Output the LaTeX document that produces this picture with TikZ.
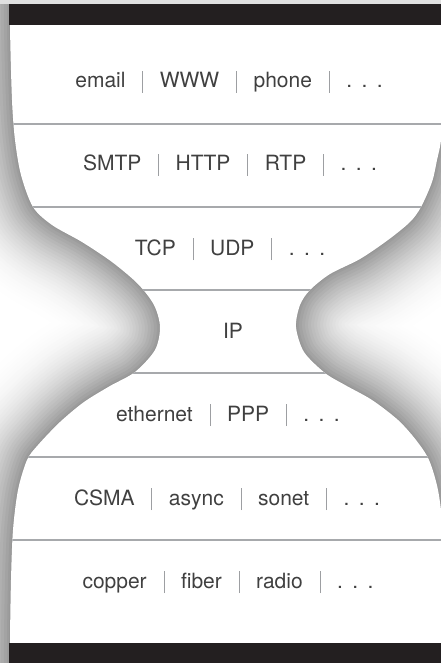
\documentclass[tikz,border=0pt]{standalone}
\usepackage{fontspec}
\setmainfont{TeX Gyre Heros}

\definecolor{barblack}{HTML}{231F20}
\definecolor{linegray}{HTML}{A7A9AC}
\definecolor{sepgray}{HTML}{9D9FA2}

\newcommand{\sepline}{\hspace{0.8em}\textcolor{sepgray}{\rule[-5pt]{0.7pt}{22pt}}\hspace{0.8em}}
\newcommand{\etcdots}{.\hspace{0.45em}.\hspace{0.45em}.}

\newcommand{\glasspath}{plot[smooth] coordinates {(10,-60) (10,25) (12,100) (15,140) (21,175) (33,207) (52,225) (82,242) (112,262) (138,284) (154,305) (160,327) (155,350) (135,372) (110,386) (84,402) (60,422) (38,445) (27,460) (18,490) (13,530) (11,580) (10,643) (10,720)}
 -- plot[smooth] coordinates {(446,720) (446,643) (445,580) (443,530) (438,490) (429,460) (416,440) (398,420) (372,400) (345,385) (325,373) (304,352) (296,327) (300,305) (310,290) (330,274) (360,259) (388,240) (410,222) (421,207) (432,182) (437,160) (441,140) (444,100) (446,25) (446,-60)}
 -- cycle}

\tikzset{
  layer/.style={font=\fontsize{21}{25}\selectfont, anchor=base, inner sep=0pt, text=black!75},
  layerline/.style={linegray, line width=2.6pt}
}

\begin{document}
\begin{tikzpicture}[x=1pt, y=-1pt]
\useasboundingbox (0,0) rectangle (441,663);
\clip (0,0) rectangle (441,663);

\fill[white] (0,0) rectangle (441,663);

\foreach \d in {90,87,...,3,1}{
  \pgfmathsetmacro{\g}{42*(1-\d/92)^2.2}
  \draw[line width=2*\d, black!\g, line join=round] \glasspath;
}

\fill[white] \glasspath;

\begin{scope}
\clip \glasspath;
\foreach \y in {124,207,290,373,457,540}
  \draw[layerline] (0,\y) -- (441,\y);
\end{scope}

\fill[black!12] (0,0) rectangle (441,4);
\fill[barblack] (9,4) rectangle (441,25);
\fill[barblack] (9,643) rectangle (441,663);

\node[layer] (email) at (229,88) {email\sepline WWW\sepline phone\sepline\etcdots};
\node[layer] (smtp) at (230,171) {SMTP\sepline HTTP\sepline RTP\sepline\etcdots};
\node[layer] (tcp) at (230,255) {TCP\sepline UDP\sepline\etcdots};
\node[layer] (ip) at (233,338) {IP};
\node[layer] (eth) at (228,421) {ethernet\sepline PPP\sepline\etcdots};
\node[layer] (csma) at (227,505) {CSMA\sepline async\sepline sonet\sepline\etcdots};
\node[layer] (copper) at (228,588) {copper\sepline fiber\sepline radio\sepline\etcdots};

\end{tikzpicture}
\end{document}
